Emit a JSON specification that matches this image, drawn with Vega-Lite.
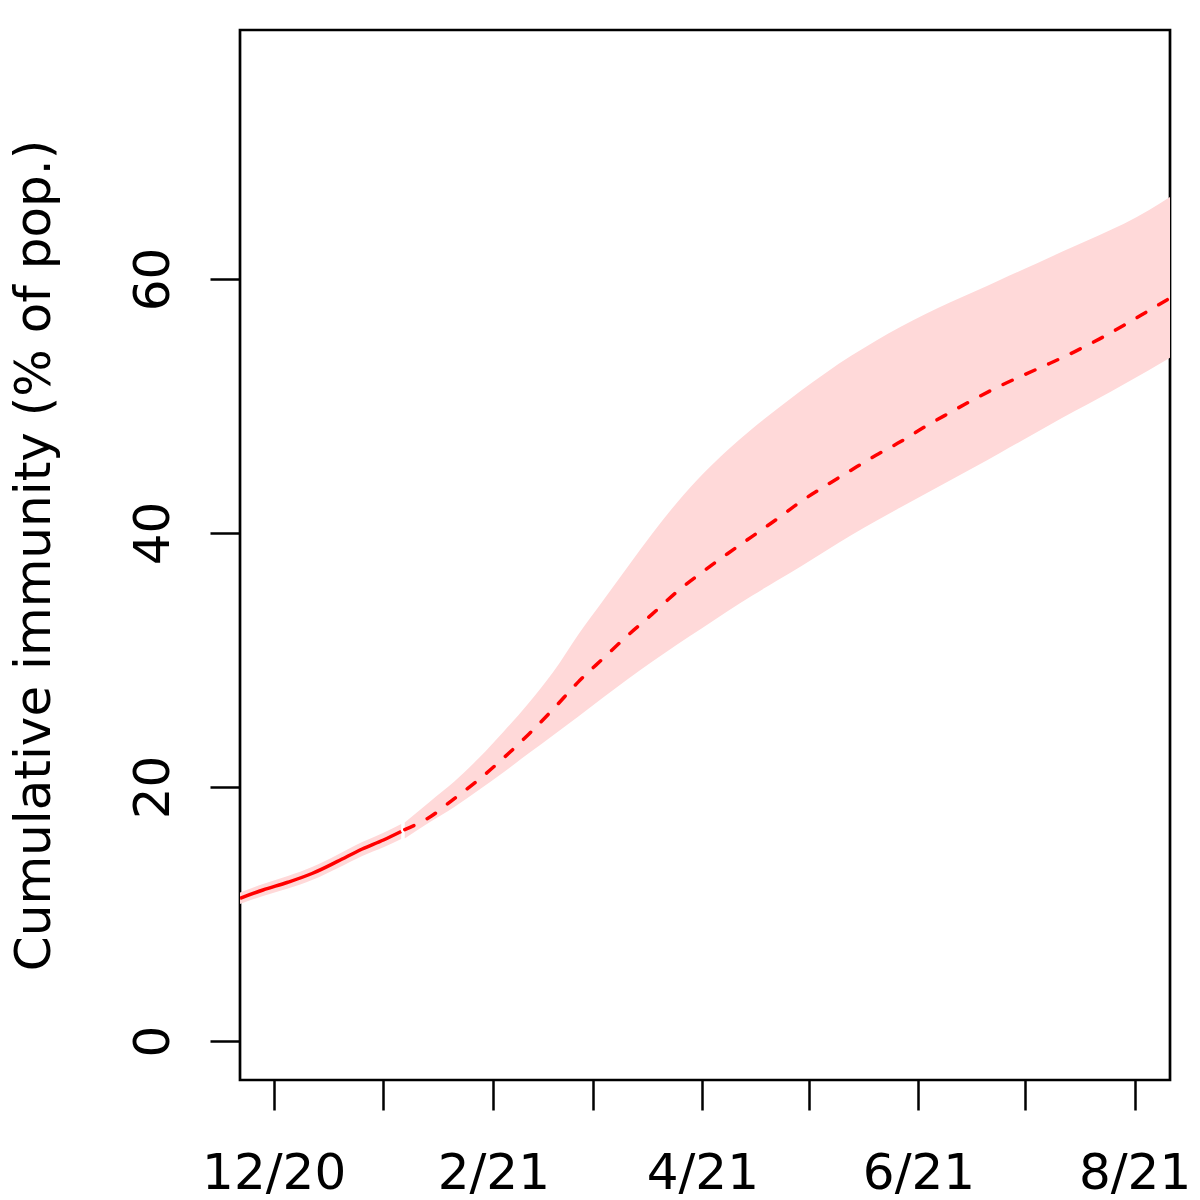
{
  "$schema": "https://vega.github.io/schema/vega-lite/v6.json",
  "width": 930,
  "height": 1050,
  "autosize": {"type": "none"},
  "padding": {"left": 240, "top": 30, "right": 30, "bottom": 120},
  "background": "white",
  "config": {
    "view": {"stroke": "black", "strokeWidth": 2.7},
    "font": "DejaVu Sans"
  },
  "data": {
    "values": [
      {"date": "2020-11-21T12:00:00Z", "phase": "observed", "lo": 10.79, "mid": 11.24, "hi": 11.69},
      {"date": "2020-11-28T00:00:00Z", "phase": "observed", "lo": 11.42, "mid": 11.89, "hi": 12.36},
      {"date": "2020-12-05T00:00:00Z", "phase": "observed", "lo": 12.01, "mid": 12.50, "hi": 12.99},
      {"date": "2020-12-12T00:00:00Z", "phase": "observed", "lo": 12.70, "mid": 13.21, "hi": 13.72},
      {"date": "2020-12-19T00:00:00Z", "phase": "observed", "lo": 13.61, "mid": 14.14, "hi": 14.67},
      {"date": "2020-12-26T00:00:00Z", "phase": "observed", "lo": 14.57, "mid": 15.12, "hi": 15.67},
      {"date": "2021-01-01T00:00:00Z", "phase": "observed", "lo": 15.26, "mid": 15.83, "hi": 16.40},
      {"date": "2021-01-06T00:00:00Z", "phase": "observed", "lo": 15.91, "mid": 16.50, "hi": 17.09},
      {"date": "2021-01-07T00:00:00Z", "phase": "projected", "lo": 15.94, "mid": 16.65, "hi": 17.20},
      {"date": "2021-01-14T00:00:00Z", "phase": "projected", "lo": 17.22, "mid": 17.62, "hi": 18.83},
      {"date": "2021-01-21T00:00:00Z", "phase": "projected", "lo": 18.43, "mid": 19.09, "hi": 20.43},
      {"date": "2021-01-28T00:00:00Z", "phase": "projected", "lo": 19.78, "mid": 20.61, "hi": 22.30},
      {"date": "2021-02-04T00:00:00Z", "phase": "projected", "lo": 21.18, "mid": 22.31, "hi": 24.39},
      {"date": "2021-02-11T00:00:00Z", "phase": "projected", "lo": 22.66, "mid": 24.16, "hi": 26.62},
      {"date": "2021-02-18T00:00:00Z", "phase": "projected", "lo": 24.10, "mid": 26.16, "hi": 29.09},
      {"date": "2021-02-25T00:00:00Z", "phase": "projected", "lo": 25.56, "mid": 28.28, "hi": 32.01},
      {"date": "2021-03-04T00:00:00Z", "phase": "projected", "lo": 27.04, "mid": 30.13, "hi": 34.69},
      {"date": "2021-03-11T00:00:00Z", "phase": "projected", "lo": 28.50, "mid": 31.95, "hi": 37.37},
      {"date": "2021-03-18T00:00:00Z", "phase": "projected", "lo": 29.91, "mid": 33.65, "hi": 40.00},
      {"date": "2021-03-25T00:00:00Z", "phase": "projected", "lo": 31.25, "mid": 35.42, "hi": 42.45},
      {"date": "2021-04-01T00:00:00Z", "phase": "projected", "lo": 32.52, "mid": 36.93, "hi": 44.60},
      {"date": "2021-04-08T00:00:00Z", "phase": "projected", "lo": 33.82, "mid": 38.35, "hi": 46.50},
      {"date": "2021-04-15T00:00:00Z", "phase": "projected", "lo": 35.06, "mid": 39.72, "hi": 48.20},
      {"date": "2021-04-22T00:00:00Z", "phase": "projected", "lo": 36.24, "mid": 41.09, "hi": 49.75},
      {"date": "2021-04-29T00:00:00Z", "phase": "projected", "lo": 37.40, "mid": 42.52, "hi": 51.25},
      {"date": "2021-05-06T00:00:00Z", "phase": "projected", "lo": 38.62, "mid": 43.76, "hi": 52.65},
      {"date": "2021-05-13T00:00:00Z", "phase": "projected", "lo": 39.83, "mid": 44.95, "hi": 53.95},
      {"date": "2021-05-20T00:00:00Z", "phase": "projected", "lo": 40.95, "mid": 46.12, "hi": 55.15},
      {"date": "2021-05-27T00:00:00Z", "phase": "projected", "lo": 42.03, "mid": 47.20, "hi": 56.25},
      {"date": "2021-06-03T00:00:00Z", "phase": "projected", "lo": 43.09, "mid": 48.40, "hi": 57.25},
      {"date": "2021-06-10T00:00:00Z", "phase": "projected", "lo": 44.15, "mid": 49.50, "hi": 58.17},
      {"date": "2021-06-17T00:00:00Z", "phase": "projected", "lo": 45.22, "mid": 50.58, "hi": 59.03},
      {"date": "2021-06-24T00:00:00Z", "phase": "projected", "lo": 46.30, "mid": 51.58, "hi": 59.92},
      {"date": "2021-07-01T00:00:00Z", "phase": "projected", "lo": 47.40, "mid": 52.48, "hi": 60.81},
      {"date": "2021-07-08T00:00:00Z", "phase": "projected", "lo": 48.50, "mid": 53.35, "hi": 61.70},
      {"date": "2021-07-15T00:00:00Z", "phase": "projected", "lo": 49.58, "mid": 54.27, "hi": 62.58},
      {"date": "2021-07-22T00:00:00Z", "phase": "projected", "lo": 50.64, "mid": 55.27, "hi": 63.45},
      {"date": "2021-07-29T00:00:00Z", "phase": "projected", "lo": 51.72, "mid": 56.36, "hi": 64.35},
      {"date": "2021-08-05T00:00:00Z", "phase": "projected", "lo": 52.82, "mid": 57.51, "hi": 65.41},
      {"date": "2021-08-11T00:00:00Z", "phase": "projected", "lo": 53.80, "mid": 58.50, "hi": 66.46}
    ]
  },
  "encoding": {
    "x": {
      "field": "date",
      "type": "temporal",
      "scale": {
        "type": "utc",
        "domain": [
          {"year": 2020, "month": 11, "date": 21, "hours": 12, "utc": true},
          {"year": 2021, "month": 8, "date": 11, "utc": true}
        ]
      },
      "axis": {
        "title": null,
        "domain": false,
        "grid": false,
        "values": [
          {"year": 2020, "month": 12, "date": 1, "utc": true},
          {"year": 2021, "month": 1, "date": 1, "utc": true},
          {"year": 2021, "month": 2, "date": 1, "utc": true},
          {"year": 2021, "month": 3, "date": 1, "utc": true},
          {"year": 2021, "month": 4, "date": 1, "utc": true},
          {"year": 2021, "month": 5, "date": 1, "utc": true},
          {"year": 2021, "month": 6, "date": 1, "utc": true},
          {"year": 2021, "month": 7, "date": 1, "utc": true},
          {"year": 2021, "month": 8, "date": 1, "utc": true}
        ],
        "labelExpr": "utcmonth(datum.value) % 2 == 1 ? utcFormat(datum.value, '%-m/%y') : ''",
        "labelOverlap": false,
        "labelFlush": false,
        "labelBound": false,
        "labelAngle": 0,
        "labelAlign": "center",
        "labelBaseline": "alphabetic",
        "labelPadding": 78,
        "labelFont": "DejaVu Sans",
        "labelFontSize": 50,
        "labelColor": "black",
        "ticks": true,
        "tickSize": 30,
        "tickWidth": 2.5,
        "tickColor": "black"
      }
    }
  },
  "layer": [
    {
      "mark": {"type": "area", "color": "#FFD9D9", "opacity": 1, "clip": true, "interpolate": "monotone"},
      "encoding": {
        "y": {
          "field": "lo",
          "type": "quantitative",
          "scale": {"domain": [-3.07, 79.61], "nice": false, "zero": false},
          "axis": {
            "title": "Cumulative immunity (% of pop.)",
            "domain": false,
            "grid": false,
            "values": [0, 20, 40, 60],
            "labelAngle": 270,
            "labelAlign": "center",
            "labelBaseline": "alphabetic",
            "labelPadding": 42,
            "labelFont": "DejaVu Sans",
            "labelFontSize": 50,
            "labelColor": "black",
            "labelOverlap": false,
            "labelFlush": false,
            "labelBound": false,
            "tickSize": 30,
            "tickWidth": 2.5,
            "tickColor": "black",
            "titleFont": "DejaVu Sans",
            "titleFontSize": 50,
            "titleFontWeight": "normal",
            "titleColor": "black",
            "titleAngle": 270,
            "titleAlign": "center",
            "titleBaseline": "alphabetic",
            "titleX": -191,
            "titleY": 525
          }
        },
        "y2": {"field": "hi"},
        "detail": {"field": "phase", "type": "nominal"}
      }
    },
    {
      "transform": [{"filter": "datum.phase == 'observed'"}],
      "mark": {"type": "line", "color": "#FF0000", "strokeWidth": 3.5, "clip": true, "interpolate": "monotone"},
      "encoding": {
        "y": {"field": "mid", "type": "quantitative"}
      }
    },
    {
      "transform": [{"filter": "datum.phase == 'projected'"}],
      "mark": {"type": "line", "color": "#FF0000", "strokeWidth": 3.5, "strokeDash": [10, 15], "strokeCap": "round", "clip": true, "interpolate": "monotone"},
      "encoding": {
        "y": {"field": "mid", "type": "quantitative"}
      }
    }
  ]
}
